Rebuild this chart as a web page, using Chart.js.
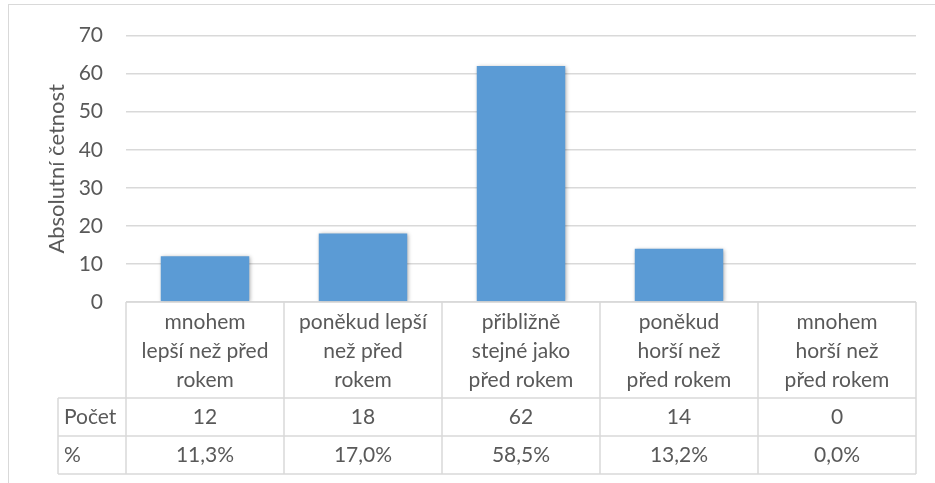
<!DOCTYPE html>
<html>
<head>
<meta charset="utf-8">
<script src="https://cdn.jsdelivr.net/npm/chart.js@4"></script>
<style>
  html, body { margin: 0; padding: 0; background: #fff; }
  #wrap { width: 935px; height: 483px; position: relative; }
</style>
</head>
<body>
<div id="wrap"><canvas id="chart" width="935" height="483"></canvas></div>
<script>
const categories = [
    ['mnohem', 'lepší než před', 'rokem'],
    ['poněkud lepší', 'než před', 'rokem'],
    ['přibližně', 'stejné jako', 'před rokem'],
    ['poněkud', 'horší než', 'před rokem'],
    ['mnohem', 'horší než', 'před rokem']
];
const counts = [12, 18, 62, 14, 0];
const percents = [11.3, 17.0, 58.5, 13.2, 0.0];
const rowLabels = ['Počet', '%'];
const yTicks = [0, 10, 20, 30, 40, 50, 60, 70];

const textColor = '#595959';
const lineColor = '#D9D9D9';
const barColor = '#5B9BD5';
const fontFamily = 'Lato, "Open Sans", sans-serif';
const fontSize = 21;

function formatPercent(v) {
    return v.toFixed(1).replace('.', ',') + '%';
}

// bar shadow like in Excel
const shadowPlugin = {
    id: 'barShadow',
    beforeDatasetsDraw(chart) {
        const ctx = chart.ctx;
        ctx.save();
        ctx.shadowColor = 'rgba(0,0,0,0.35)';
        ctx.shadowBlur = 4;
        ctx.shadowOffsetX = 1;
        ctx.shadowOffsetY = 1;
    },
    afterDatasetsDraw(chart) {
        chart.ctx.restore();
    }
};

// data table under the plot
const tablePlugin = {
    id: 'dataTable',
    afterDraw(chart) {
        const ctx = chart.ctx;
        const xScale = chart.scales.x;
        const area = chart.chartArea;
        const n = categories.length;
        const colW = xScale.width / n;
        const top = area.bottom;
        const labelRowH = 96;
        const rowH = 38;
        const headLeft = 58;
        const rowTops = [top + labelRowH, top + labelRowH + rowH];
        const bottom = top + labelRowH + rowH * 2;

        ctx.save();
        // outer chart border
        ctx.strokeStyle = lineColor;
        ctx.lineWidth = 1;
        ctx.strokeRect(8.5, 4.5, chart.width + 10, chart.height + 10);

        ctx.strokeStyle = lineColor;
        ctx.lineWidth = 1.5;
        ctx.beginPath();
        // horizontal lines
        ctx.moveTo(xScale.left, top);
        ctx.lineTo(xScale.right, top);
        rowTops.concat([bottom]).forEach(y => {
            ctx.moveTo(headLeft, y);
            ctx.lineTo(xScale.right, y);
        });
        // vertical lines
        for (let i = 0; i <= n; i++) {
            const x = xScale.left + colW * i;
            ctx.moveTo(x, top);
            ctx.lineTo(x, bottom);
        }
        ctx.moveTo(headLeft, rowTops[0]);
        ctx.lineTo(headLeft, bottom);
        ctx.stroke();

        ctx.fillStyle = textColor;
        ctx.font = fontSize + 'px ' + fontFamily;
        ctx.textBaseline = 'middle';
        ctx.textAlign = 'center';
        categories.forEach((lines, i) => {
            const cx = xScale.getPixelForTick(i);
            lines.forEach((line, j) => {
                ctx.fillText(line, cx, top + 20 + j * 29);
            });
            ctx.fillText(String(counts[i]), cx, rowTops[0] + rowH / 2);
            ctx.fillText(formatPercent(percents[i]), cx, rowTops[1] + rowH / 2);
        });
        ctx.textAlign = 'left';
        rowLabels.forEach((label, j) => {
            ctx.fillText(label, headLeft + 6, rowTops[j] + rowH / 2);
        });
        ctx.restore();
    }
};

const ctx = document.getElementById('chart').getContext('2d');
new Chart(ctx, {
    type: 'bar',
    data: {
        labels: categories.map(c => c.join(' ')),
        datasets: [{
            data: counts,
            backgroundColor: barColor,
            borderWidth: 0,
            categoryPercentage: 1,
            barPercentage: 0.56
        }]
    },
    options: {
        responsive: false,
        animation: false,
        events: [],
        layout: {
            padding: { left: 40, right: 19, top: 34, bottom: 181 }
        },
        plugins: {
            legend: { display: false },
            tooltip: { enabled: false }
        },
        scales: {
            x: {
                grid: { display: false, drawTicks: false },
                border: { display: false },
                ticks: { display: false }
            },
            y: {
                min: 0,
                max: 70,
                afterBuildTicks(scale) {
                    scale.ticks = yTicks.map(v => ({ value: v }));
                },
                afterFit(scale) {
                    scale.width = 86;
                },
                grid: { color: lineColor, lineWidth: 1.5, drawTicks: false },
                border: { display: false },
                ticks: {
                    color: textColor,
                    padding: 23,
                    font: { family: fontFamily, size: fontSize }
                },
                title: {
                    display: true,
                    text: 'Absolutní četnost',
                    color: textColor,
                    padding: { top: 4, bottom: 4 },
                    font: { family: fontFamily, size: 22 }
                }
            }
        }
    },
    plugins: [shadowPlugin, tablePlugin]
});
</script>
</body>
</html>
